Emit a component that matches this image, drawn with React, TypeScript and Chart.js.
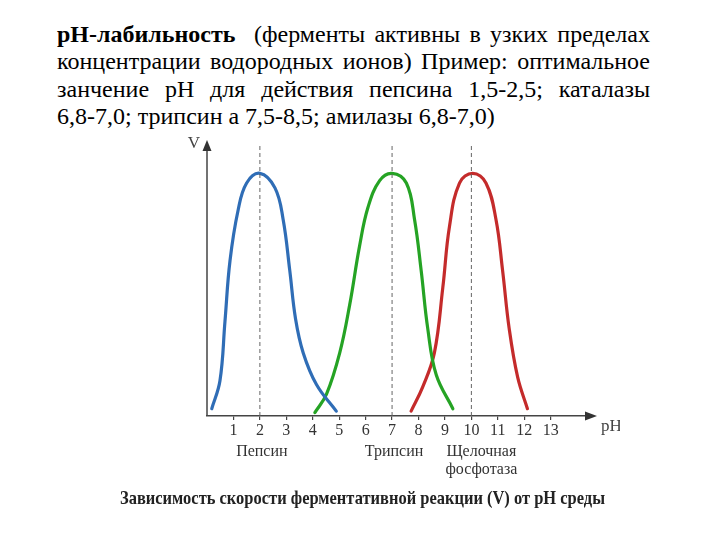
import React, { useEffect, useLayoutEffect, useRef, useState } from "react";
import { Chart, registerables } from "chart.js";

Chart.register(...registerables);

// pH values and relative reaction rate V (peak = 1)
const pepsinPH = [0.18, 0.49, 0.68, 0.87, 1.18, 1.5, 2.0, 2.57, 2.88, 3.13, 3.35, 3.64, 4.14, 4.89];
const pepsinV = [0.03, 0.145, 0.39, 0.64, 0.85, 0.96, 1.0, 0.94, 0.81, 0.6, 0.4, 0.26, 0.13, 0.02];

const trypsinPH = [4.08, 4.52, 5.02, 5.4, 5.77, 6.09, 6.53, 7.0, 7.54, 7.85, 8.1, 8.35, 8.67, 9.3];
const trypsinV = [0.014, 0.09, 0.26, 0.46, 0.7, 0.86, 0.97, 1.0, 0.96, 0.81, 0.6, 0.36, 0.17, 0.03];

const phosphPH = [7.72, 8.16, 8.6, 8.92, 9.17, 9.55, 10.05, 10.55, 10.93, 11.18, 11.43, 11.75, 12.12];
const phosphV = [0.02, 0.12, 0.26, 0.53, 0.78, 0.96, 1.0, 0.96, 0.81, 0.6, 0.36, 0.16, 0.03];

const optimumPH = [2, 7, 10];
const enzymeNames = [["Пепсин"], ["Трипсин"], ["Щелочная", "фосфотаза"]];
const tickLabels = ["1", "2", "3", "4", "5", "6", "7", "8", "9", "10", "11", "12", "13"];

const paragraphLines = [
  "(ферменты активны в узких пределах",
  "концентрации водородных ионов) Пример: оптимальное",
  "занчение pH  для  действия пепсина 1,5-2,5; каталазы",
  "6,8-7,0; трипсин а 7,5-8,5; амилазы 6,8-7,0)",
];
const caption = "Зависимость скорости ферментативной реакции (V) от pH среды";

const X_MAX = 14.6;
const Y_MAX = 1.125;
const SERIF = "'Liberation Serif', 'Times New Roman', Tinos, 'DejaVu Serif', serif";

const zip = (xs: number[], ys: number[]) => xs.map((x, i) => ({ x, y: ys[i] }));

const decorPlugin = {
  id: "decor",
  afterDraw(chart: any) {
    const { ctx, scales } = chart;
    const xs = scales.x;
    const ys = scales.y;
    const x0 = xs.getPixelForValue(0);
    const y0 = ys.getPixelForValue(0);
    const yTop = ys.getPixelForValue(Y_MAX);
    const xEnd = xs.getPixelForValue(X_MAX);
    ctx.save();
    ctx.strokeStyle = "#444";
    ctx.fillStyle = "#333";
    ctx.lineWidth = 1.5;
    // y axis
    ctx.beginPath();
    ctx.moveTo(x0, y0);
    ctx.lineTo(x0, yTop + 4);
    ctx.stroke();
    ctx.beginPath();
    ctx.moveTo(x0, yTop - 3);
    ctx.lineTo(x0 - 4.5, yTop + 8);
    ctx.lineTo(x0 + 4.5, yTop + 8);
    ctx.closePath();
    ctx.fill();
    // x arrow
    ctx.beginPath();
    ctx.moveTo(xEnd + 4, y0);
    ctx.lineTo(xEnd - 8, y0 - 4.5);
    ctx.lineTo(xEnd - 8, y0 + 4.5);
    ctx.closePath();
    ctx.fill();
    // labels
    ctx.fillStyle = "#444";
    ctx.font = "17px " + SERIF;
    ctx.textBaseline = "middle";
    ctx.textAlign = "center";
    ctx.fillText("V", x0 - 13, yTop + 1);
    ctx.textAlign = "left";
    ctx.fillText("pH", xEnd + 8, y0 + 11);
    ctx.font = "16px " + SERIF;
    ctx.textAlign = "center";
    ctx.fillStyle = "#333";
    optimumPH.forEach((p, i) => {
      const px = xs.getPixelForValue(p);
      enzymeNames[i].forEach((t, j) => {
        ctx.fillText(t, px + (i === 2 ? 10 : 2), y0 + 36 + j * 18);
      });
    });
    ctx.restore();
  },
};

export default function App() {
  const ref = useRef<HTMLCanvasElement>(null);
  const capRef = useRef<HTMLSpanElement>(null);
  const [capScale, setCapScale] = useState(1);

  useLayoutEffect(() => {
    if (capRef.current) {
      const w = capRef.current.getBoundingClientRect().width;
      if (w > 0) setCapScale(485 / w);
    }
  }, []);

  useEffect(() => {
    if (!ref.current) return;
    const dashed = optimumPH.map((p) => ({
      data: [
        { x: p, y: 0 },
        { x: p, y: Y_MAX },
      ],
      borderColor: "#666",
      borderWidth: 1,
      borderDash: [4, 3],
      pointRadius: 0,
      tension: 0,
    }));
    const curve = (xs: number[], ys: number[], color: string) => ({
      data: zip(xs, ys),
      borderColor: color,
      borderWidth: 3.2,
      pointRadius: 0,
      tension: 0.4,
      borderCapStyle: "round" as const,
      borderJoinStyle: "round" as const,
    });
    const chart = new Chart(ref.current, {
      type: "line",
      data: {
        datasets: [
          ...dashed,
          curve(pepsinPH, pepsinV, "#2f6db6"),
          curve(trypsinPH, trypsinV, "#25a324"),
          curve(phosphPH, phosphV, "#c42b2b"),
        ] as any,
      },
      options: {
        animation: false,
        responsive: false,
        events: [],
        layout: { padding: { left: 97, right: 27, top: 13, bottom: 74 } },
        plugins: { legend: { display: false }, tooltip: { enabled: false } },
        scales: {
          x: {
            type: "linear",
            min: 0,
            max: X_MAX,
            afterFit: (s: any) => {
              s.height = 30;
            },
            afterBuildTicks: (s: any) => {
              s.ticks = tickLabels.map((t) => ({ value: Number(t) }));
            },
            ticks: {
              autoSkip: false,
              maxRotation: 0,
              padding: 1,
              color: "#333",
              font: { family: SERIF, size: 16 },
              callback: (v: any) => String(v),
            },
            grid: { drawOnChartArea: false, drawTicks: true, tickLength: 4, color: "#444", lineWidth: 1.2 },
            border: { display: true, color: "#444", width: 1.5 },
          },
          y: {
            type: "linear",
            min: 0,
            max: Y_MAX,
            display: false,
            afterFit: (s: any) => {
              s.width = 0;
            },
          },
        },
      },
      plugins: [decorPlugin],
    });
    return () => chart.destroy();
  }, []);

  const lineStyle: React.CSSProperties = {
    whiteSpace: "nowrap",
    height: 27.3,
    lineHeight: "27.3px",
  };

  return (
    <div style={{ position: "absolute", left: 0, top: 0, width: 720, height: 540, background: "#fff", overflow: "hidden" }}>
      <div
        style={{
          position: "absolute",
          left: 57,
          top: 21,
          width: 593,
          fontFamily: SERIF,
          fontSize: 24,
          color: "#000",
        }}
      >
        <div style={{ ...lineStyle, textAlign: "justify", textAlignLast: "justify" }}>
          <b>pH-лабильность</b>&nbsp; {paragraphLines[0]}
        </div>
        <div style={{ ...lineStyle, textAlign: "justify", textAlignLast: "justify" }}>{paragraphLines[1]}</div>
        <div style={{ ...lineStyle, textAlign: "justify", textAlignLast: "justify" }}>{paragraphLines[2]}</div>
        <div style={{ ...lineStyle, textAlign: "left" }}>{paragraphLines[3]}</div>
      </div>
      <canvas ref={ref} width={510} height={390} style={{ position: "absolute", left: 110, top: 130, width: 510, height: 390 }} />
      <div
        style={{
          position: "absolute",
          left: 120,
          top: 486,
          whiteSpace: "nowrap",
          fontFamily: SERIF,
          fontWeight: "bold",
          fontSize: 19,
          lineHeight: "24px",
          color: "#222",
          transformOrigin: "0 0",
          transform: `scaleX(${capScale})`,
        }}
      >
        <span ref={capRef}>{caption}</span>
      </div>
    </div>
  );
}
